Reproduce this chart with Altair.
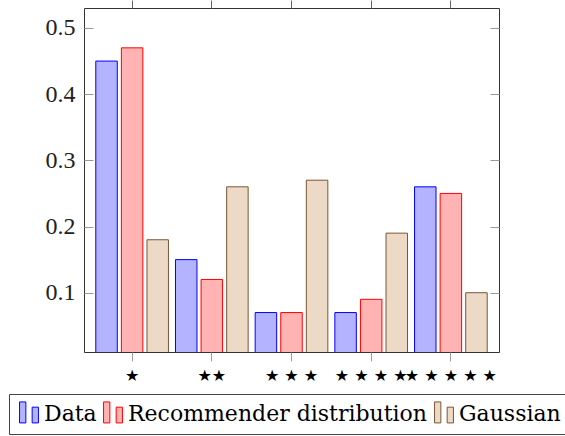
import altair as alt
import pandas as pd

categories = ["★", "★★", "★ ★ ★", "★ ★ ★ ★", "★ ★ ★ ★ ★"]
series = ["Data", "Recommender distribution", "Gaussian"]
data_vals = [0.45, 0.15, 0.07, 0.07, 0.26]
recommender_vals = [0.47, 0.12, 0.07, 0.09, 0.25]
gaussian_vals = [0.18, 0.26, 0.27, 0.19, 0.10]
y_ticks = [0.1, 0.2, 0.3, 0.4, 0.5]
fill_colors = ["#b3b3ff", "#ffb3b3", "#ecd9c6"]
stroke_colors = ["#0000ff", "#ff0000", "#7a5636"]

rows = []
for s, vals in zip(series, [data_vals, recommender_vals, gaussian_vals]):
    for c, v in zip(categories, vals):
        rows.append({"cat": c, "series": s, "value": v})
df = pd.DataFrame(rows)

x_scale = alt.Scale(domain=categories, paddingInner=0, paddingOuter=0.104)
y_scale = alt.Scale(domain=[0.0104, 0.5302], zero=False, nice=False)

bar_symbol = "M-0.9,-1.15H-0.3V0.85H-0.9Z M0.3,-0.65H0.9V0.85H0.3Z"

legend = alt.Legend(
    orient="none", legendX=-75, legendY=386, direction="horizontal", columns=3,
    title=None, symbolType=bar_symbol, symbolSize=441, symbolStrokeWidth=1,
    symbolOpacity=1, labelFont="DejaVu Serif",
    labelFontSize=22, labelColor="black",
    labelLimit=600, labelOffset=4, columnPadding=4, padding=9,
    strokeColor="#444", fillColor="white", cornerRadius=0,
)

bars = alt.Chart(df).mark_bar(clip=True, strokeWidth=1, opacity=1).encode(
    x=alt.X("cat:N", scale=x_scale, sort=categories,
            axis=alt.Axis(orient="bottom", title=None, labelAngle=0, tickSize=9,
                          domain=False, labelFont="DejaVu Sans", labelFontSize=16,
                          labelColor="black", tickColor="#999", labelPadding=14,
                          labelBaseline="middle")),
    xOffset=alt.XOffset("series:N", sort=series,
                        scale=alt.Scale(paddingInner=0.16, paddingOuter=0.137)),
    y=alt.Y("value:Q", scale=y_scale,
            axis=alt.Axis(orient="left", values=y_ticks, format=".1f", offset=-9,
                          tickSize=9, domain=False, grid=False, title=None,
                          labelPadding=9, labelFont="Liberation Serif",
                          labelFontSize=24, labelFontWeight="normal",
                          labelColor="#222", tickColor="#999")),
    fill=alt.Fill("series:N", sort=series,
                  scale=alt.Scale(domain=series, range=fill_colors), legend=legend),
    stroke=alt.Stroke("series:N", sort=series,
                      scale=alt.Scale(domain=series, range=stroke_colors), legend=legend),
)

ghost = alt.Chart(df).mark_point(opacity=0).encode(
    x=alt.X("cat:N", sort=categories,
            axis=alt.Axis(orient="top", labels=False, tickSize=8, domain=False,
                          title=None, tickColor="#666")),
    y=alt.Y("value:Q",
            axis=alt.Axis(orient="right", values=y_ticks, labels=False, offset=-9,
                          tickSize=9, domain=False, grid=False, title=None,
                          tickColor="#999")),
)

chart = alt.layer(bars, ghost).resolve_axis(
    x="independent", y="independent"
).properties(
    width=415, height=344,
    autosize=alt.AutoSizeParams(type="none"),
    padding={"left": 84, "top": 8, "right": 66, "bottom": 84},
).configure_view(stroke="#333", strokeWidth=1).configure_axis(grid=False)

chart.save("out.html", embed_options={"renderer": "svg", "actions": False})
